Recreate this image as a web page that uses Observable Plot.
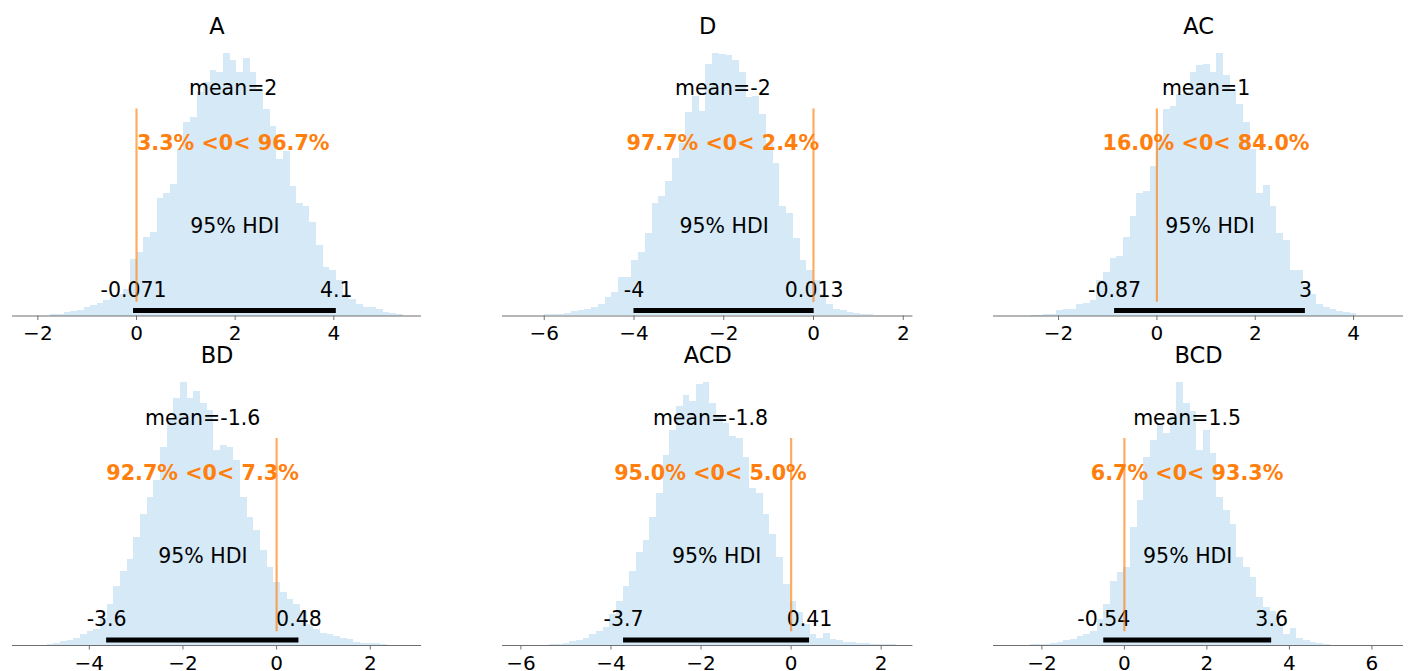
<!DOCTYPE html>
<html>
<head>
<meta charset="utf-8">
<script src="https://cdn.jsdelivr.net/npm/d3@7"></script>
<script src="https://cdn.jsdelivr.net/npm/@observablehq/plot@0.6"></script>
<style>
  html, body { margin: 0; padding: 0; background: white; }
  #chart { position: relative; width: 1412px; height: 671px; background: white; overflow: hidden; }
  #chart svg { position: absolute; overflow: visible; }
</style>
</head>
<body>
<div id="chart"></div>
<script>
// ---- data ----
const panels = ["A", "D", "AC", "BD", "ACD", "BCD"];
const binStart = [-1.737, -6.592, -2.576, -4.897, -5.356, -2.274];
const binWidth = [0.1347, 0.1498, 0.1356, 0.1423, 0.1481, 0.1613];

const countsA = [3,5,10,13,17,25,30,38,45,55,65,80,167,190,233,250,350,365,392,495,575,590,665,695,730,725,783,760,725,767,725,675,615,565,465,490,385,335,325,280,210,145,135,105,65,50,35,25,25,20,10,7,5];
const countsD = [2,2,1,2,3,3,5,7,13,17,20,25,35,55,70,115,115,165,190,245,335,355,400,470,515,605,655,610,750,783,780,775,760,725,650,655,600,515,455,325,305,230,165,135,105,65,35,20,15,10,7,5,3];
const countsAC = [2,2,3,5,17,19,20,35,37,45,105,130,170,177,235,295,365,370,445,525,615,625,660,665,725,745,750,725,783,715,675,630,575,495,365,388,325,245,225,137,135,95,65,35,25,20,13,10,7];
const countsBD = [4,7,12,16,22,32,42,47,82,122,177,222,257,322,392,442,492,592,672,737,784,737,757,722,702,582,597,592,552,442,382,342,282,232,187,157,137,122,102,62,47,37,32,27,22,17,10,7,6,6,4];
const countsACD = [2,3,5,12,16,22,32,42,54,92,132,177,222,277,312,382,452,567,642,712,747,727,777,784,722,682,662,622,617,562,467,452,392,332,262,182,132,97,62,32,22,37,19,16,10,8,7,6,3,2,2,3];
const countsBCD = [2,3,4,6,10,14,17,27,32,42,77,122,192,217,232,352,432,562,612,657,632,682,784,722,697,582,642,572,442,402,362,262,232,202,142,112,102,62,32,50,22,14,10,6,2];
const counts = [countsA, countsD, countsAC, countsBD, countsACD, countsBCD];

const means = [1.96, -2.02, 1.0, -1.58, -1.79, 1.52];
const meanLabels = ["mean=2", "mean=-2", "mean=1", "mean=-1.6", "mean=-1.8", "mean=1.5"];
const refVal = 0;
const refLabels = ["3.3% <0< 96.7%", "97.7% <0< 2.4%", "16.0% <0< 84.0%", "92.7% <0< 7.3%", "95.0% <0< 5.0%", "6.7% <0< 93.3%"];
const hdiLow = [-0.06, -4.0, -0.86, -3.63, -3.72, -0.5];
const hdiHigh = [4.05, 0.015, 3.02, 0.477, 0.41, 3.57];
const hdiLowLabels = ["-0.071", "-4", "-0.87", "-3.6", "-3.7", "-0.54"];
const hdiHighLabels = ["4.1", "0.013", "3", "0.48", "0.41", "3.6"];
const xDomains = [[-2.514, 5.777], [-6.93, 2.215], [-3.323, 5.015], [-5.64, 3.094], [-6.408, 2.704], [-3.173, 6.766]];
const xTicks = [[-2, 0, 2, 4], [-6, -4, -2, 0, 2], [-2, 0, 2, 4], [-4, -2, 0, 2], [-6, -4, -2, 0, 2], [-2, 0, 2, 4, 6]];

// ---- layout ----
const colLeft = [12, 502.3, 993.3];
const colRight = [421, 912.7, 1403.3];
const rowTop = [0, 330];
const rowMarginTop = [39.5, 39];
const rowMarginBottom = [29.5, 30];
const svgHeight = 345;
const side = 35;
const FONT = "'DejaVu Sans', 'Liberation Sans', sans-serif";
const histColor = "#d5e9f6";
const orange = "#ff7f0e";
const textSize = 20.5;

const chart = document.getElementById("chart");

panels.forEach((name, i) => {
  const row = Math.floor(i / 3), col = i % 3;
  const bins = counts[i].map((c, k) => ({
    x1: binStart[i] + k * binWidth[i],
    x2: binStart[i] + (k + 1) * binWidth[i],
    c
  }));
  const H = 1.05 * d3.max(counts[i]);
  const hdiMid = (hdiLow[i] + hdiHigh[i]) / 2;

  const plot = Plot.plot({
    width: (colRight[col] - colLeft[col]) + 2 * side,
    height: svgHeight,
    marginLeft: side,
    marginRight: side,
    marginTop: rowMarginTop[row],
    marginBottom: rowMarginBottom[row],
    style: { fontFamily: FONT, background: "transparent", overflow: "visible", color: "black" },
    x: { domain: xDomains[i], axis: null },
    y: { domain: [0, H], axis: null },
    marks: [
      Plot.rectY(bins, { x1: "x1", x2: "x2", y: "c", fill: histColor, shapeRendering: "crispEdges" }),
      Plot.ruleY([0], { stroke: "#6f6f6f", strokeWidth: 1.1 }),
      Plot.axisX({ ticks: xTicks[i], tickSize: 4.5, tickPadding: 5.5, fontSize: 20, stroke: "#6f6f6f", color: "black", tickFormat: d3.format("") }),
      Plot.ruleY([{ y: 0.02 * H, x1: hdiLow[i], x2: hdiHigh[i] }], { y: "y", x1: "x1", x2: "x2", stroke: "black", strokeWidth: 5, strokeLinecap: "butt" }),
      Plot.text([{ x: hdiLow[i], y: 0.07 * H, t: hdiLowLabels[i] }, { x: hdiHigh[i], y: 0.07 * H, t: hdiHighLabels[i] }],
        { x: "x", y: "y", text: "t", lineAnchor: "bottom", fontSize: textSize, fill: "black" }),
      Plot.text([{ x: hdiMid, y: 0.3 * H, t: "95% HDI" }], { x: "x", y: "y", text: "t", lineAnchor: "bottom", fontSize: textSize, fill: "black" }),
      Plot.ruleX([{ x: refVal, y1: 0.05 * H, y2: 0.75 * H }], { x: "x", y1: "y1", y2: "y2", stroke: orange, strokeOpacity: 0.65, strokeWidth: 2.2 }),
      Plot.text([{ x: means[i], y: 0.6 * H, t: refLabels[i] }], { x: "x", y: "y", text: "t", lineAnchor: "bottom", fontSize: 20.7, fontWeight: "bold", fill: orange }),
      Plot.text([{ x: means[i], y: 0.8 * H, t: meanLabels[i] }], { x: "x", y: "y", text: "t", lineAnchor: "bottom", fontSize: textSize, fill: "black" }),
      Plot.text([name], { text: d => d, frameAnchor: "top", dy: -6.2, lineAnchor: "bottom", fontSize: 22.5, fill: "black" })
    ]
  });
  plot.style.left = (colLeft[col] - side) + "px";
  plot.style.top = rowTop[row] + "px";
  chart.appendChild(plot);
});
</script>
</body>
</html>
